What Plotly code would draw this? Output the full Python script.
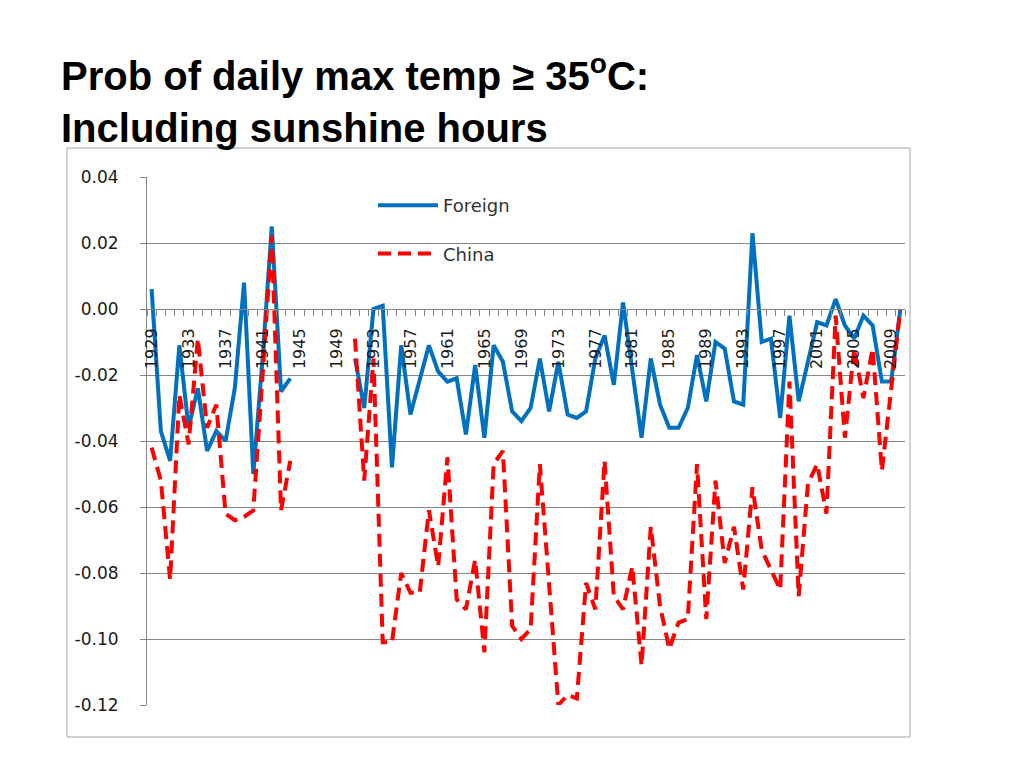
import plotly.graph_objects as go

# ---- data (years 1945-1950 missing) ----
years = list(range(1929, 2011))

foreign = [
    0.006, -0.037, -0.046, -0.011, -0.036, -0.024, -0.043, -0.037, -0.040, -0.024,   # 1929-1938
    0.008, -0.050, -0.015, 0.025, -0.025, -0.021,                                   # 1939-1944
    None, None, None, None, None, None,                                             # 1945-1950
    -0.015, -0.030, 0.000, 0.001, -0.048, -0.011, -0.032, -0.022, -0.011,           # 1951-1959
    -0.019, -0.022, -0.021, -0.038, -0.017, -0.039, -0.011, -0.016, -0.031, -0.034, # 1960-1969
    -0.030, -0.015, -0.031, -0.016, -0.032, -0.033, -0.031, -0.015, -0.008, -0.023, # 1970-1979
    0.002, -0.018, -0.039, -0.015, -0.029, -0.036, -0.036, -0.030, -0.014, -0.028,  # 1980-1989
    -0.010, -0.012, -0.028, -0.029, 0.023, -0.010, -0.009, -0.033, -0.002, -0.028,  # 1990-1999
    -0.016, -0.004, -0.005, 0.003, -0.005, -0.009, -0.002, -0.005, -0.022, -0.022,  # 2000-2009
    0.000,                                                                          # 2010
]

china = [
    -0.042, -0.052, -0.082, -0.026, -0.041, -0.009, -0.036, -0.029, -0.062, -0.064, # 1929-1938
    -0.063, -0.061, -0.020, 0.022, -0.061, -0.046,                                  # 1939-1944
    None, None, None, None, None, None,                                             # 1945-1950
    -0.009, -0.052, -0.015, -0.101, -0.101, -0.080, -0.086, -0.086, -0.061,         # 1951-1959
    -0.078, -0.045, -0.088, -0.091, -0.076, -0.104, -0.047, -0.043, -0.096, -0.100, # 1960-1969
    -0.097, -0.047, -0.085, -0.120, -0.117, -0.118, -0.083, -0.091, -0.046, -0.087, # 1970-1979
    -0.091, -0.078, -0.108, -0.066, -0.090, -0.103, -0.095, -0.094, -0.047, -0.094, # 1980-1989
    -0.052, -0.077, -0.066, -0.085, -0.054, -0.073, -0.079, -0.085, -0.022, -0.087, # 1990-1999
    -0.053, -0.047, -0.062, -0.002, -0.039, -0.012, -0.027, -0.012, -0.049, -0.024, # 2000-2009
    0.000,                                                                          # 2010
]

label_years = years[::4]
y_ticks = [0.04, 0.02, 0.00, -0.02, -0.04, -0.06, -0.08, -0.10, -0.12]

# page coords of the plot area; the html body adds an 8px offset
OFF = 8
L, R, T, B = 147, 905, 177, 705
FW, FH = 1024 - OFF, 768 - OFF
W, H = R - L, B - T

def px_x(p):
    return (p - L) / W

def px_y(p):
    return (B - p) / H

fig = go.Figure()

fig.add_trace(go.Scatter(
    x=years, y=foreign, mode='lines', name='Foreign',
    line=dict(color='#0070C0', width=4),
    connectgaps=False, legendgroup='a'
))
fig.add_trace(go.Scatter(
    x=years, y=china, mode='lines', name='China',
    line=dict(color='#FF0000', width=4, dash='13px,7px'),
    connectgaps=False, legendgroup='b'
))

y0_pos = (0 - y_ticks[-1]) / (y_ticks[0] - y_ticks[-1])

fig.update_layout(
    width=FW, height=FH,
    margin=dict(l=L - OFF, r=1024 - R, t=T - OFF, b=768 - B),
    paper_bgcolor='white', plot_bgcolor='white',
    showlegend=True,
    legend=dict(
        x=px_x(373), y=px_y(187), xanchor='left', yanchor='top',
        bgcolor='rgba(0,0,0,0)', traceorder='grouped', tracegroupgap=22,
        font=dict(family='DejaVu Sans', size=18, color='#333333'),
        itemwidth=60,
    ),
    xaxis=dict(
        range=[years[0] - 0.5, years[-1] + 0.5],
        tickvals=label_years, ticktext=[str(y) for y in label_years],
        tickangle=-90, tickfont=dict(family='DejaVu Sans', size=16, color='#1a1a1a'),
        ticks='', ticklabelstandoff=12,
        minor=dict(tickvals=[y - 0.5 for y in years] + [years[-1] + 0.5],
                   ticks='outside', ticklen=6, tickcolor='#878787', showgrid=False),
        showgrid=False, zeroline=False,
        showline=True, linecolor='#878787', linewidth=1,
        anchor='free', position=y0_pos,
    ),
    yaxis=dict(
        range=[y_ticks[-1], y_ticks[0]],
        tickvals=y_ticks, ticktext=[f'{v:.2f}' for v in y_ticks],
        tickfont=dict(family='DejaVu Sans', size=17, color='#1a1a1a'),
        showgrid=True, gridcolor='#878787', gridwidth=1,
        zeroline=False, showline=True, linecolor='#878787', linewidth=1,
        ticks='outside', ticklen=6, tickcolor='#878787', ticklabelstandoff=18,
    ),
    annotations=[dict(
        text='Prob of daily max temp \u2265 35<sup style="font-size:70%">o</sup>C:<br>Including sunshine hours',
        xref='paper', yref='paper', x=px_x(59), y=px_y(46),
        xanchor='left', yanchor='top', align='left', showarrow=False,
        font=dict(family='Liberation Sans', size=40, color='black', weight='bold'),
    )],
    shapes=[dict(
        type='rect', xref='paper', yref='paper',
        x0=px_x(67), x1=px_x(910), y0=px_y(737), y1=px_y(148),
        line=dict(color='#A6A6A6', width=1), layer='below',
    )],
)

fig.write_html('out.html')
